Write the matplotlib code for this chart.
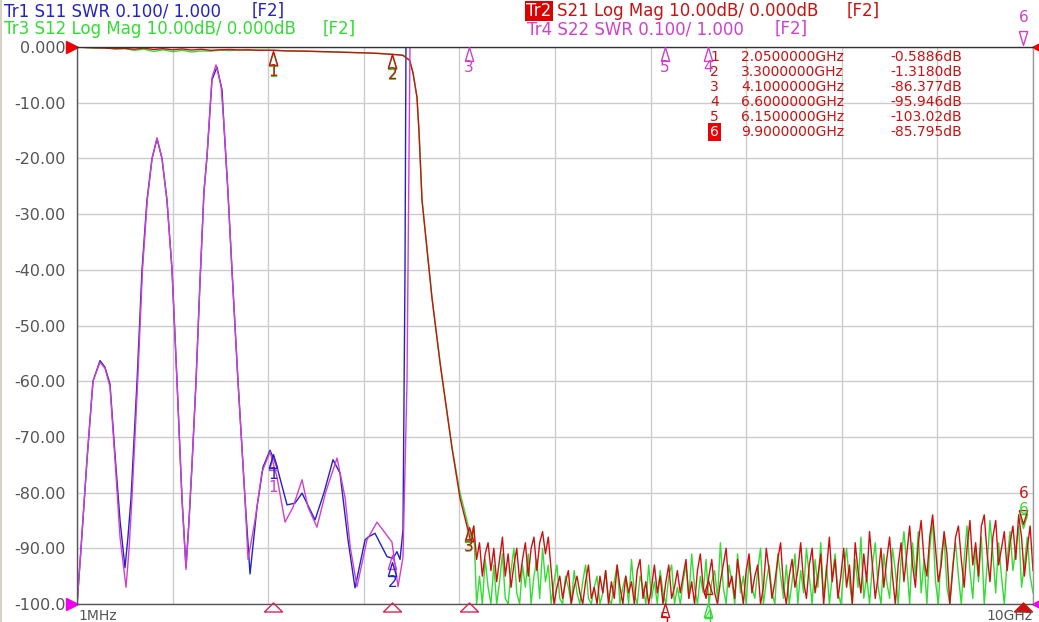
import numpy as np
import matplotlib.pyplot as plt
from matplotlib.patches import Rectangle
from matplotlib.transforms import offset_copy

# ---- data (frequency in GHz, magnitude in dB) ----
f_pass = [0.001, 0.1, 0.2, 0.3, 0.4, 0.5, 0.6, 0.7, 0.8, 0.9, 1.0, 1.1, 1.2, 1.3, 1.4,
          1.5, 1.6, 1.7, 1.8, 1.9, 2.05, 2.2, 2.4, 2.6, 2.8, 3.0, 3.15, 3.3, 3.36]
s21_pass = [0.0, -0.1, -0.15, -0.2, -0.3, -0.25, -0.4, -0.2, -0.45, -0.3, -0.5, -0.35, -0.55, -0.4, -0.6,
            -0.5, -0.45, -0.55, -0.5, -0.6, -0.59, -0.7, -0.75, -0.85, -0.95, -1.05, -1.15, -1.32, -1.4]
s12_pass = [0.0, -0.1, -0.2, -0.15, -0.35, -0.3, -0.6, -0.4, -0.8, -0.5, -0.85, -0.6, -0.9, -0.7, -0.75,
            -0.55, -0.65, -0.5, -0.6, -0.55, -0.59, -0.7, -0.75, -0.85, -0.95, -1.05, -1.15, -1.32, -1.4]

f_roll = [3.41, 3.48, 3.515, 3.556, 3.577, 3.609, 3.713, 3.80, 3.849, 3.923, 4.006, 4.079, 4.12]
s21_roll = [-1.5, -2.4, -4.7, -9, -15, -27.5, -45, -57, -63, -72, -81, -86, -89]
s12_roll = [-1.5, -2.4, -4.6, -9, -15, -27.5, -45, -57, -63, -72, -80, -85, -88]

# stopband readings, evenly spaced sweep points from 4.15 to 10 GHz
s21_noise = [-86, -92, -89, -95, -91, -89, -94, -90, -96, -92, -88, -95, -91, -97, -93,
             -90, -96, -92, -89, -95, -90, -88, -94, -89, -87, -91, -88,
             -94, -100, -97, -95, -99, -96, -94, -100, -97, -95, -98, -100, -96, -93, -99,
             -97, -100, -95, -98, -94, -100, -96, -99, -93, -97, -100, -95, -98, -96, -100,
             -94, -92, -99, -96, -100, -97, -93, -98, -95, -100, -96, -93, -99, -97, -94,
             -98, -95, -92, -99, -96, -100, -94, -91, -97, -99, -95, -92, -98, -100, -96,
             -93, -90, -97, -95, -99, -92, -96, -100, -94, -91, -98, -95, -93, -100, -97,
             -90, -94, -99, -96, -92, -89, -97, -100, -95,
             -92, -97, -94, -89, -96, -99, -93, -90, -98, -95, -91, -100, -94, -88, -96,
             -92, -99, -95, -90, -97, -93, -100, -89, -94, -98, -91, -96, -87, -93, -99,
             -95, -90, -97, -92, -88, -95, -100, -93, -89, -96,
             -91, -86, -93, -97, -89, -85, -92, -95, -88, -84, -90, -96, -93, -87, -91,
             -100, -94, -88, -86, -92, -97, -90, -85, -93, -89, -95, -86, -84, -91, -96,
             -88, -85, -93, -90, -87, -94, -89, -86, -92, -84, -88, -95, -90, -86, -94]
s12_noise = [-86, -100, -95, -100, -92, -97, -100, -93, -100, -96, -91, -99, -100, -94, -90,
             -98, -100, -93, -97, -91, -100, -95, -92, -99, -90, -96, -93,
             -100, -96, -93, -99, -100, -95, -97, -100, -94, -98, -100, -96, -93, -99, -100,
             -97, -95, -100, -98, -94, -99, -100, -96, -93, -100, -97, -95, -100, -92, -98,
             -100, -95, -97, -100, -93, -99, -96, -100, -94, -98, -100, -95, -93, -100, -97,
             -100, -96, -93, -99, -91, -97, -100, -95, -98, -92, -100, -96, -94, -99, -89,
             -97, -100, -93, -96, -100, -91, -98, -95, -100, -92, -97, -99, -94, -90, -100,
             -96, -93, -98, -100, -91, -95, -99, -93, -100,
             -96, -91, -100, -94, -98, -90, -95, -100, -92, -97, -89, -99, -93, -100, -95,
             -91, -98, -100, -94, -90, -96, -100, -92, -97, -88, -99, -95, -100, -93, -89,
             -97, -100, -91, -96, -99, -90, -94, -100, -92, -87,
             -93, -100, -89, -95, -87, -98, -92, -100, -90, -85, -96, -100, -91, -88, -97,
             -100, -93, -89, -95, -100, -92, -86, -94, -99, -90, -96, -88, -100, -93, -85,
             -91, -98, -89, -95, -100, -92, -87, -94, -90, -86, -97, -93, -88, -95, -98]

f_s11 = [0.001, 0.042, 0.105, 0.167, 0.241, 0.293, 0.345, 0.397, 0.450, 0.502, 0.533, 0.565,
         0.628, 0.680, 0.732, 0.785, 0.837, 0.889, 0.941, 0.994, 1.046, 1.098, 1.140, 1.172,
         1.203, 1.245, 1.287, 1.328, 1.360, 1.412, 1.464, 1.517, 1.538, 1.579, 1.621, 1.684,
         1.757, 1.810, 1.883, 1.946, 2.019, 2.092, 2.197, 2.280, 2.354, 2.490, 2.584, 2.678,
         2.751, 2.835, 2.908, 3.013, 3.044, 3.117, 3.243, 3.305, 3.347, 3.379, 3.410, 3.431,
         3.441, 10.0]
s11 = [-100, -90, -74, -60, -56.3, -57.5, -60.5, -73, -85, -93.5, -88, -81,
       -60, -40, -27.5, -20, -16.5, -20, -27.5, -40, -60, -81, -93.4, -85,
       -75, -60, -42, -26, -19.7, -5.9, -3.6, -7.7, -14.4, -26, -40, -60,
       -81, -94.6, -82.6, -75.4, -72.4, -75.4, -82.2, -81.9, -80.1, -84.9, -80, -74.1,
       -76.5, -88.5, -97.1, -88.5, -88, -87.3, -91.5, -91.8, -90.6, -92, -86.7, -40,
       0, 0]

f_s22 = [0.001, 0.042, 0.105, 0.167, 0.241, 0.293, 0.345, 0.397, 0.450, 0.513, 0.545, 0.575,
         0.635, 0.685, 0.735, 0.785, 0.837, 0.889, 0.941, 0.994, 1.046, 1.098, 1.140, 1.172,
         1.203, 1.245, 1.287, 1.328, 1.360, 1.412, 1.454, 1.507, 1.538, 1.579, 1.621, 1.684,
         1.757, 1.789, 1.862, 1.935, 2.019, 2.092, 2.176, 2.260, 2.354, 2.416, 2.510, 2.600,
         2.720, 2.803, 2.860, 2.929, 3.033, 3.138, 3.295, 3.358, 3.410, 3.452, 3.483, 10.0]
s22 = [-100, -90, -74, -60, -56.6, -57.7, -61, -74, -88, -97, -90, -81,
       -60, -40, -27.5, -20, -16.3, -20, -27.5, -40, -60, -81, -93.8, -85,
       -75, -60, -42, -26, -19.5, -5.5, -3.2, -7, -14, -26, -40, -60,
       -81, -92, -85, -76.3, -72.7, -77.2, -85.3, -82.6, -77.7, -82.6, -86.2, -80,
       -73.8, -80.8, -90, -96.9, -88.5, -85.3, -88.9, -96.9, -91.6, -60, 0, 0]

marker_ids = ["1", "2", "3", "4", "5", "6"]
marker_freq = ["2.0500000GHz", "3.3000000GHz", "4.1000000GHz", "6.6000000GHz", "6.1500000GHz", "9.9000000GHz"]
marker_val = ["-0.5886dB", "-1.3180dB", "-86.377dB", "-95.946dB", "-103.02dB", "-85.795dB"]

BLUE = "#2222cc"
RED = "#cc1111"
GREEN = "#33dd33"
MAG = "#d040d0"
GRAY = "#555555"

W, H = 1039, 622
fig = plt.figure(figsize=(W / 100, H / 100), dpi=100)
fig.patches.append(Rectangle((0, 0), 2 / W, 1, transform=fig.transFigure, fc="#d8d2c4", ec="none"))
ax = fig.add_axes([77 / W, 18 / H, 956 / W, 557 / H])

f21 = list(f_pass) + f_roll + list(np.linspace(4.15, 10.0, len(s21_noise)))
f12 = list(f_pass) + f_roll + list(np.linspace(4.15, 10.0, len(s12_noise)))
s21 = s21_pass + s21_roll + s21_noise
s12 = s12_pass + s12_roll + s12_noise

ax.plot(f_s11, s11, color=BLUE, lw=1.0)
ax.plot(f12, np.clip(s12, -100, 0), color=GREEN, lw=1.0)
ax.plot(f21, np.clip(s21, -100, 0), color=RED, lw=1.0)
ax.plot(f_s22, s22, color=MAG, lw=1.0)

ax.set_xlim(0.001, 10)
ax.set_ylim(-100, 0)
ax.set_xticks(range(0, 11))
ax.set_xticklabels([])
ax.set_yticks(range(-100, 1, 10))
ax.set_yticklabels(["-100.0", "-90.00", "-80.00", "-70.00", "-60.00", "-50.00",
                    "-40.00", "-30.00", "-20.00", "-10.00", "0.000"])
ax.tick_params(length=0, pad=8, labelsize=11.5, labelcolor=GRAY)
ax.grid(True, color="#cccccc", lw=1.0)
ax.set_axisbelow(True)
for side, c in [("top", "#333333"), ("left", GRAY), ("bottom", GRAY), ("right", "#999999")]:
    ax.spines[side].set_color(c)
    ax.spines[side].set_linewidth(1.0)

tri_up = [(-0.6, -1), (0.6, -1), (0, 1), (-0.6, -1)]
tri_dn = [(-0.6, 1), (0.6, 1), (0, -1), (-0.6, 1)]
tri_flat = [(-1, -0.5), (1, -0.5), (0, 0.5), (-1, -0.5)]


def shifted(dx, dy):
    return offset_copy(ax.transData, fig=fig, x=dx, y=dy, units="dots")


def mark(f, v, label, color, dy, ldy, down=False):
    ax.plot([f], [v], marker=tri_dn if down else tri_up, ms=10, mec=color,
            mfc="none", mew=1.0, transform=shifted(0, dy), clip_on=False, zorder=6)
    if label:
        ax.text(f, v, label, transform=shifted(0, ldy), ha="center", va="center",
                color=color, fontsize=11, zorder=7, clip_on=False)


# S12 / S21 markers
mark(2.05, -0.5886, "1", GREEN, -9, -22)
mark(2.05, -0.5886, "1", RED, -8, -21)
mark(3.3, -1.318, "2", GREEN, -8, -21)
mark(3.3, -1.318, "2", RED, -7, -20)
mark(4.1, -86.377, "3", GREEN, -7, -19)
mark(4.1, -86.377, "3", RED, -6, -18)
mark(6.6, -95.946, "", RED, -6, 0)
mark(6.6, -100, "4", GREEN, -6, -13)
mark(6.15, -100, "5", RED, -6, -16)
mark(9.9, -86.5, "6", GREEN, 8, 19, down=True)
mark(9.9, -85.795, "6", RED, 8, 31, down=True)

# S11 / S22 markers
mark(2.05, -72.6, "1", MAG, -12, -36)
mark(2.05, -72.4, "1", BLUE, -11, -24)
mark(3.3, -91.0, "", MAG, -8, 0)
mark(3.3, -91.5, "2", BLUE, -12, -26)
mark(4.1, 0, "3", MAG, -7, -20)
mark(6.15, 0, "5", MAG, -7, -20)
mark(6.6, 0, "4", MAG, -7, -20)
mark(9.9, 0, "6", MAG, 9, 30, down=True)

# active-marker indicators on the bottom edge
for fx in [2.05, 3.3, 4.1]:
    ax.plot([fx], [-100], marker=tri_flat, ms=13, mfc="none", mec="#dd2255", mew=1.0,
            transform=shifted(0, -3), clip_on=False, zorder=6)
ax.plot([9.9], [-100], marker=tri_flat, ms=13, color=RED,
        transform=shifted(0, -3), clip_on=False, zorder=6)

# reference position arrows
ax.plot([0.001], [0], marker=">", ms=9, color="#ee0000", transform=shifted(-5, 0), clip_on=False)
ax.plot([0.001], [-100], marker=">", ms=9, color="#ee00ee", transform=shifted(-5, 0), clip_on=False)
ax.plot([10], [0], marker="<", ms=8, color="#ee0000", transform=shifted(5, 0), clip_on=False)
ax.plot([10], [-100], marker="<", ms=8, color="#ee00ee", transform=shifted(5, 0), clip_on=False)


def ftext(x, y, s, **kw):
    fig.text(x / W, 1 - y / H, s, va="center", **kw)


# header lines
ftext(4, 11, "Tr1 S11 SWR 0.100/ 1.000", color=BLUE, fontsize=12)
ftext(252, 11, "[F2]", color=BLUE, fontsize=12)
ftext(4, 29, "Tr3 S12 Log Mag 10.00dB/ 0.000dB", color=GREEN, fontsize=12)
ftext(323, 29, "[F2]", color=GREEN, fontsize=12)
ftext(526, 11, "Tr2", color="white", fontsize=12,
      bbox=dict(boxstyle="square,pad=0.08", fc="#dd0000", ec="none"))
ftext(557, 11, "S21 Log Mag 10.00dB/ 0.000dB", color=RED, fontsize=12)
ftext(847, 11, "[F2]", color=RED, fontsize=12)
ftext(527, 29, "Tr4 S22 SWR 0.100/ 1.000", color=MAG, fontsize=12)
ftext(775, 29, "[F2]", color=MAG, fontsize=12)

# marker table
for i in range(len(marker_ids)):
    y = 57 + i * 15
    if marker_ids[i] == "6":
        ftext(719, y, marker_ids[i], color="white", fontsize=10, ha="right",
              bbox=dict(boxstyle="square,pad=0.15", fc="#ee0000", ec="none"))
    else:
        ftext(719, y, marker_ids[i], color=RED, fontsize=10, ha="right")
    ftext(741, y, marker_freq[i], color=RED, fontsize=10)
    ftext(962, y, marker_val[i], color=RED, fontsize=10, ha="right")

ftext(78, 616, "1MHz", color=GRAY, fontsize=10)
ftext(1033, 616, "10GHz", color=GRAY, fontsize=10, ha="right")

fig.savefig("out.png", dpi=100, facecolor="white")
